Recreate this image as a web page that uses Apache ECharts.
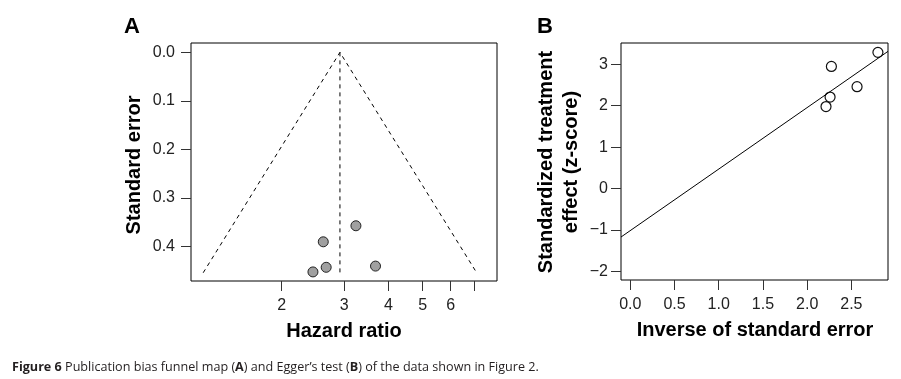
<!DOCTYPE html>
<html>
<head>
<meta charset="utf-8">
<script src="https://cdn.jsdelivr.net/npm/echarts@6/dist/echarts.min.js"></script>
<style>
html,body{margin:0;padding:0;background:#fff;}
#chart{width:901px;height:379px;}
</style>
</head>
<body>
<div id="chart"></div>
<script>
// ---- Panel A: funnel plot data ----
const hazardRatio   = [3.24, 2.62, 2.67, 2.45, 3.68];
const standardError = [0.357, 0.390, 0.4425, 0.452, 0.440];
const pooledHR = 2.92;
const funnelMaxSE = 0.4537;
const xTicksA  = [2, 3, 4, 5, 6, 7];
const xLabelsA = [2, 3, 4, 5, 6];
const yTicksA  = [0, 0.1, 0.2, 0.3, 0.4];

// ---- Panel B: Egger's test data ----
const inverseSE = [2.80, 2.274, 2.259, 2.213, 2.564];
const zScore    = [3.29, 2.95, 2.21, 1.98, 2.46];
const eggerIntercept = -1.016;
const eggerSlope = 1.486;
const xTicksB = [0, 0.5, 1, 1.5, 2, 2.5];
const yTicksB = [-2, -1, 0, 1, 2, 3];

const FONT = 'Liberation Sans';
const tickLabel = (margin) => ({fontFamily: FONT, fontSize: 16, color: '#222', margin: margin});
const lnC = Math.log(pooledHR);
const xMinA = 0.103, xMaxA = 2.093;
const xMinB = -0.105, xMaxB = 2.914;
const noLine = {show: false, onZero: false};

const chart = echarts.init(document.getElementById('chart'), null, {renderer: 'canvas'});
chart.setOption({
  animation: false,
  backgroundColor: '#fff',
  grid: [
    {left: 191, top: 43, width: 306, height: 238, show: true, borderColor: '#000', borderWidth: 1, backgroundColor: 'transparent'},
    {left: 621, top: 43, width: 267, height: 237, show: true, borderColor: '#000', borderWidth: 1, backgroundColor: 'transparent'}
  ],
  xAxis: [
    {
      gridIndex: 0, type: 'value', min: xMinA, max: xMaxA, position: 'bottom',
      axisLine: noLine,
      splitLine: {show: false},
      axisTick: {show: true, length: 10, inside: false, lineStyle: {color: '#333', width: 1}, customValues: xTicksA.map(Math.log)},
      axisLabel: Object.assign(tickLabel(17), {customValues: xLabelsA.map(Math.log), formatter: v => String(Math.round(Math.exp(v)))})
    },
    {
      gridIndex: 1, type: 'value', min: xMinB, max: xMaxB, position: 'bottom',
      axisLine: noLine,
      splitLine: {show: false},
      axisTick: {show: true, length: 10, inside: false, lineStyle: {color: '#333', width: 1}, customValues: xTicksB},
      axisLabel: Object.assign(tickLabel(17), {customValues: xTicksB, formatter: v => v.toFixed(1)})
    }
  ],
  yAxis: [
    {
      gridIndex: 0, type: 'value', min: -0.0193, max: 0.4707, inverse: true, position: 'left',
      axisLine: noLine,
      splitLine: {show: false},
      axisTick: {show: true, length: 10, inside: false, lineStyle: {color: '#333', width: 1}, customValues: yTicksA},
      axisLabel: Object.assign(tickLabel(16), {customValues: yTicksA, formatter: v => v.toFixed(1)})
    },
    {
      gridIndex: 1, type: 'value', min: -2.21, max: 3.516, position: 'left',
      axisLine: noLine,
      splitLine: {show: false},
      axisTick: {show: true, length: 10, inside: false, lineStyle: {color: '#333', width: 1}, customValues: yTicksB},
      axisLabel: Object.assign(tickLabel(13), {customValues: yTicksB, formatter: v => (v < 0 ? '\u2212' + Math.abs(v) : String(v))})
    }
  ],
  series: [
    {
      type: 'line', xAxisIndex: 0, yAxisIndex: 0, silent: true, showSymbol: false,
      lineStyle: {color: '#000', width: 1, type: [4, 4]},
      data: [[lnC - 1.96 * funnelMaxSE, funnelMaxSE], [lnC, 0], [lnC + 1.96 * funnelMaxSE, funnelMaxSE]]
    },
    {
      type: 'line', xAxisIndex: 0, yAxisIndex: 0, silent: true, showSymbol: false,
      lineStyle: {color: '#000', width: 1, type: [4, 4]},
      data: [[lnC, 0], [lnC, funnelMaxSE]]
    },
    {
      type: 'scatter', xAxisIndex: 0, yAxisIndex: 0, silent: true,
      symbol: 'circle', symbolSize: 10,
      itemStyle: {color: '#a0a0a0', borderColor: '#222', borderWidth: 1, opacity: 1},
      data: hazardRatio.map((hr, i) => [Math.log(hr), standardError[i]])
    },
    {
      type: 'line', xAxisIndex: 1, yAxisIndex: 1, silent: true, showSymbol: false,
      lineStyle: {color: '#000', width: 1},
      data: [[xMinB, eggerIntercept + eggerSlope * xMinB], [xMaxB, eggerIntercept + eggerSlope * xMaxB]]
    },
    {
      type: 'scatter', xAxisIndex: 1, yAxisIndex: 1, silent: true,
      symbol: 'circle', symbolSize: 10,
      itemStyle: {color: 'rgba(255,255,255,0)', borderColor: '#111', borderWidth: 1.2, opacity: 1},
      data: inverseSE.map((x, i) => [x, zScore[i]])
    }
  ],
  graphic: [
    {type: 'text', x: 132, y: 27, style: {text: 'A', fontFamily: FONT, fontWeight: 'bold', fontSize: 22, fill: '#000', align: 'center', verticalAlign: 'middle'}},
    {type: 'text', x: 545, y: 27, style: {text: 'B', fontFamily: FONT, fontWeight: 'bold', fontSize: 22, fill: '#000', align: 'center', verticalAlign: 'middle'}},
    {type: 'text', x: 134, y: 165, rotation: Math.PI / 2, style: {text: 'Standard error', fontFamily: FONT, fontWeight: 'bold', fontSize: 20, fill: '#000', align: 'center', verticalAlign: 'middle'}},
    {type: 'text', x: 344, y: 331, style: {text: 'Hazard ratio', fontFamily: FONT, fontWeight: 'bold', fontSize: 20, fill: '#000', align: 'center', verticalAlign: 'middle'}},
    {type: 'text', x: 546, y: 162, rotation: Math.PI / 2, style: {text: 'Standardized treatment', fontFamily: FONT, fontWeight: 'bold', fontSize: 20, fill: '#000', align: 'center', verticalAlign: 'middle'}},
    {type: 'text', x: 571, y: 162, rotation: Math.PI / 2, style: {text: 'effect (z-score)', fontFamily: FONT, fontWeight: 'bold', fontSize: 20, fill: '#000', align: 'center', verticalAlign: 'middle'}},
    {type: 'text', x: 755, y: 330, style: {text: 'Inverse of standard error', fontFamily: FONT, fontWeight: 'bold', fontSize: 20, fill: '#000', align: 'center', verticalAlign: 'middle'}},
    {type: 'text', x: 12, y: 367, style: {
      text: '{b|Figure 6} Publication bias funnel map ({b|A}) and Egger\u2019s test ({b|B}) of the data shown in Figure 2.',
      fontFamily: 'Open Sans', fontSize: 12.6, fill: '#231f20', align: 'left', verticalAlign: 'middle',
      rich: {b: {fontFamily: 'Open Sans', fontSize: 12.6, fontWeight: 'bold', fill: '#231f20'}}
    }}
  ]
});
</script>
</body>
</html>
